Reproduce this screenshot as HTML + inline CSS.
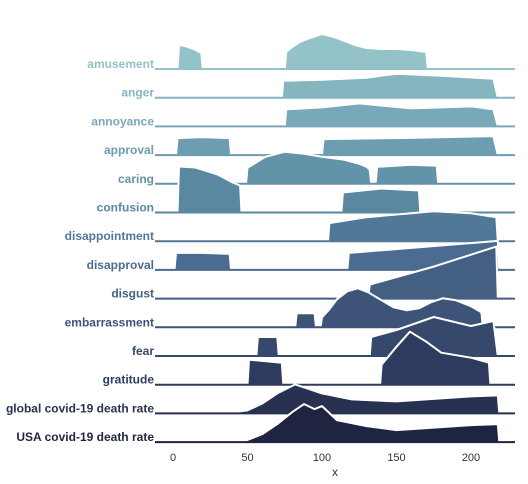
<!DOCTYPE html>
<html><head><meta charset="utf-8"><style>
html,body{margin:0;padding:0;background:#fff;}
svg{display:block;font-family:"Liberation Sans",sans-serif;}
</style></head><body>
<svg id="c" width="528" height="484"></svg>
<script>
const categories=["amusement","anger","annoyance","approval","caring","confusion","disappointment","disapproval","disgust","embarrassment","fear","gratitude","global covid-19 death rate","USA covid-19 death rate"];
const colors=["#93c2c8","#85b6c0","#78a9b8","#6c9db0","#6393a8","#5a88a0","#527898","#4b6c90","#435f82","#3d5478","#36486c","#2e3b5e","#283150","#1f2440"];
// each series: list of segments, each segment = x values + density values
const amusementX=[[3,4,8,14,19,20],[75,76,80,85,92,100,108,115,122,130,140,150,160,170,171]];
const amusementY=[[0,24,23,20,16,0],[0,17,22,27,31,35,32,28,24,21,20,20,19,17,0]];
const angerX=[[73,74,100,130,150,180,215,218]];
const angerY=[[0,17,18,20,24,22,19,0]];
const annoyanceX=[[75,76,100,125,160,200,215,218]];
const annoyanceY=[[0,17,19,23,18,20,17,0]];
const approvalX=[[2,3,20,38,39],[100,101,150,215,218]];
const approvalY=[[0,17,18,17,0],[0,16,17,19,0]];
const caringX=[[49,50,62,75,88,100,115,125,130,132,133],[136,137,160,177,178]];
const caringY=[[0,16,27,32,30,27,24,20,17,14,0],[0,17,19,18,0]];
const confusionX=[[3,4,15,30,40,45,46],[113,114,140,165,166]];
const confusionY=[[0,46,45,38,30,27,0],[0,20,24,22,0]];
const disappointmentX=[[104,105,130,175,200,217,218]];
const disappointmentY=[[0,18,24,30,28,24,0]];
const disapprovalX=[[1,2,20,38,39],[117,118,160,210,218,219]];
const disapprovalY=[[0,17,17,16,0],[0,17,22,28,29,0]];
const disgustX=[[131,132,175,217,218]];
const disgustY=[[0,14,32,52,0]];
const embarrassmentX=[[82,83,95,96],[99,100,105,110,117,124,131,140,148,157,165,173,181,190,200,207,208]];
const embarrassmentY=[[0,14,14,0],[0,10,18,28,36,39,35,27,20,17,19,25,29,27,21,15,0]];
const fearX=[[56,57,70,71],[132,133,150,175,200,215,218]];
const fearY=[[0,19,19,0],[0,19,26,39,30,35,0]];
const gratitudeX=[[50,51,73,74],[139,140,150,159,170,180,200,212,213]];
const gratitudeY=[[0,25,22,0],[0,20,38,53,43,32,27,22,0]];
const globalX=[[-12,40,50,60,70,82,100,120,150,200,218,219]];
const globalY=[[0,1,3,10,20,29,20,14,12,17,18,0]];
const usaX=[[-12,48,60,70,80,88,95,100,110,130,150,170,200,218,219]];
const usaY=[[0,1,8,18,30,38,33,36,22,16,12,14,17,18,0]];
const seriesX=[amusementX,angerX,annoyanceX,approvalX,caringX,confusionX,disappointmentX,disapprovalX,disgustX,embarrassmentX,fearX,gratitudeX,globalX,usaX];
const seriesY=[amusementY,angerY,annoyanceY,approvalY,caringY,confusionY,disappointmentY,disapprovalY,disgustY,embarrassmentY,fearY,gratitudeY,globalY,usaY];
const ticks=[0,50,100,150,200];

const NS="http://www.w3.org/2000/svg";
const svg=document.getElementById('c');
const xs=v=>173+v*1.49;
const x0=155,x1=515,base0=69,step=28.7;
const rowY=i=>base0+i*step;
function mk(t,a){const e=document.createElementNS(NS,t);for(const k in a)e.setAttribute(k,a[k]);svg.appendChild(e);return e;}
categories.forEach((cat,i)=>{
  const b=rowY(i);
  seriesX[i].forEach((segX,j)=>{
    const segY=seriesY[i][j];
    let d="";
    segX.forEach((v,k)=>{d+=(k?"L":"M")+xs(v).toFixed(1)+","+(b-segY[k]).toFixed(1);});
    const fill=mk('path',{d:d+"L"+xs(segX[segX.length-1]).toFixed(1)+","+b+"L"+xs(segX[0]).toFixed(1)+","+b+"Z",fill:colors[i]});
    
    
    const ol=mk('path',{d:d,fill:'none',stroke:'#fff','stroke-width':2,'stroke-linejoin':'round'});
    
    
  });
  const ln=mk('line',{x1:x0,x2:x1,y1:b,y2:b,stroke:colors[i],'stroke-width':2});
  
  
  const t=mk('text',{x:154,y:b-1,'text-anchor':'end','font-size':12,'font-weight':'bold',fill:colors[i]});
  t.textContent=cat;
  
  
});
ticks.forEach(v=>{
  const t=mk('text',{x:xs(v),y:461,'text-anchor':'middle','font-size':11,fill:'#333'});
  t.textContent=v;
  
  
});
const xl=mk('text',{x:335,y:476,'text-anchor':'middle','font-size':12,fill:'#333'});
xl.textContent='x';


</script>
</body></html>
